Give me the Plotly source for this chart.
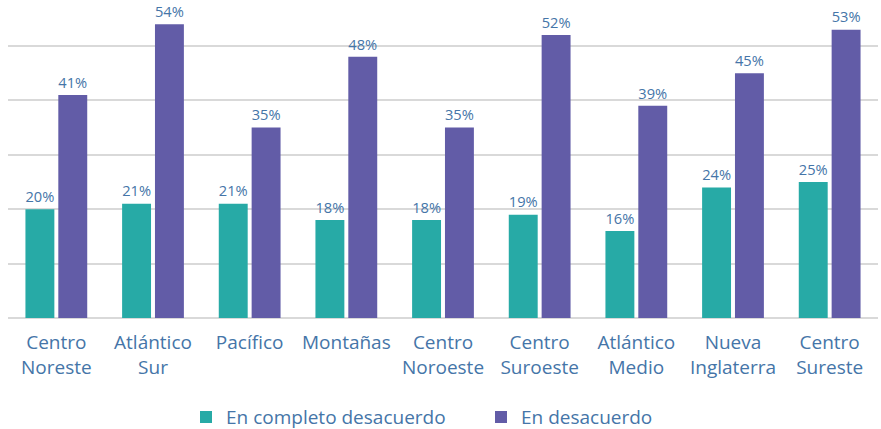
import plotly.graph_objects as go

regions = ["Centro<br>Noreste", "Atlántico<br>Sur", "Pacífico", "Montañas", "Centro<br>Noroeste",
           "Centro<br>Suroeste", "Atlántico<br>Medio", "Nueva<br>Inglaterra", "Centro<br>Sureste"]
completo = [20, 21, 21, 18, 18, 19, 16, 24, 25]
desacuerdo = [41, 54, 35, 48, 35, 52, 39, 45, 53]

TEXT = "#4575A8"
FONT = "Open Sans"

fig = go.Figure()
fig.add_trace(go.Bar(
    x=regions, y=completo, name="En completo desacuerdo",
    marker=dict(color="#27AAA6", line=dict(width=0)),
    text=[f"{v}%" for v in completo], textposition="outside",
    textfont=dict(color=TEXT, size=17, family=FONT), cliponaxis=False
))
fig.add_trace(go.Bar(
    x=regions, y=desacuerdo, name="En desacuerdo",
    marker=dict(color="#625CA7", line=dict(width=0)),
    text=[f"{v}%" for v in desacuerdo], textposition="outside",
    textfont=dict(color=TEXT, size=17, family=FONT), cliponaxis=False
))

fig.update_layout(
    width=881, height=429,
    margin=dict(l=8, r=3, t=0, b=111, autoexpand=False),
    barmode="group", bargap=0.32, bargroupgap=0.12,
    plot_bgcolor="white", paper_bgcolor="white",
    font=dict(family=FONT, color=TEXT, size=18),
    legend=dict(orientation="h", x=0.2046, xanchor="left", y=-0.312, yanchor="middle",
                font=dict(size=19, color=TEXT), traceorder="normal",
                entrywidth=250, entrywidthmode="pixels"),
)
fig.update_xaxes(showgrid=False, showline=False, ticks="", automargin=False,
                 ticklabelstandoff=11, tickfont=dict(size=19, color=TEXT))
fig.update_yaxes(range=[0, 58.45], dtick=10, showticklabels=False, gridcolor="#D9D9D9",
                 gridwidth=2, zeroline=True, zerolinecolor="#D9D9D9", zerolinewidth=2,
                 automargin=False)

# drop the browser's default 8px body margin so the figure sits at the page corner
fig.write_html("out.html", config={"displayModeBar": False},
               post_script="document.body.style.margin = '0';")
